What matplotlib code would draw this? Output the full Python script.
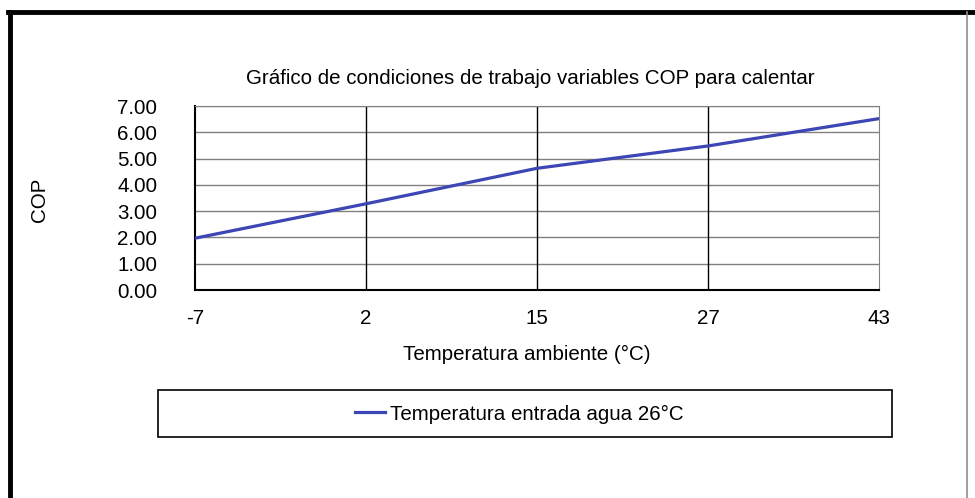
import matplotlib.pyplot as plt
from matplotlib.lines import Line2D
from matplotlib.patches import Rectangle

# datos
temperaturas = ["-7", "2", "15", "27", "43"]
cop = [1.97, 3.28, 4.63, 5.48, 6.52]
yticks = [0, 1, 2, 3, 4, 5, 6, 7]
serie = "Temperatura entrada agua 26°C"

plt.rcParams['font.family'] = ['Liberation Sans', 'DejaVu Sans']
fs = 14.8

W, H = 975, 498
fig = plt.figure(figsize=(W / 100, H / 100), dpi=100)

def fx(px):
    return px / W

def fy(py):
    return 1 - py / H

# marco exterior
fig.add_artist(Line2D([fx(10), fx(10)], [fy(12), 0], color='black', lw=3.5))
fig.add_artist(Line2D([fx(8), 1], [fy(12), fy(12)], color='black', lw=3.5))
fig.add_artist(Line2D([fx(967), fx(967)], [fy(12), 0], color='#909090', lw=1.2))

ax = fig.add_axes([fx(195), fy(290), fx(879) - fx(195), fy(106) - fy(290)])
x = list(range(len(temperaturas)))
ax.plot(x, cop, color='#3c46b4', lw=2.3, label=serie, zorder=3)

ax.set_xlim(0, len(temperaturas) - 1)
ax.set_ylim(0, 7)
ax.set_xticks(x)
ax.set_xticklabels(temperaturas)
ax.set_yticks(yticks)
ax.set_yticklabels(["%.2f" % v for v in yticks])
ax.tick_params(length=0, labelsize=fs)
ax.tick_params(axis='x', pad=14)
ax.tick_params(axis='y', pad=27)

for v in yticks[1:]:
    ax.axhline(v, color='#808080', lw=1, zorder=1)
for i in x[1:-1]:
    ax.axvline(i, color='black', lw=1, zorder=1)

ax.spines['left'].set_color('black')
ax.spines['bottom'].set_color('black')
ax.spines['left'].set_linewidth(1.5)
ax.spines['bottom'].set_linewidth(1.5)
ax.spines['top'].set_color('#808080')
ax.spines['right'].set_color('#808080')

ax.set_xlabel("Temperatura ambiente (°C)", fontsize=fs)
ax.xaxis.set_label_coords(0.485, -0.353)
ax.xaxis.label.set_va('center')
ax.set_ylabel("COP", fontsize=fs)
ax.yaxis.set_label_coords(-0.227, 0.49)
ax.yaxis.label.set_va('center')

fig.text(fx(530), fy(78), "Gráfico de condiciones de trabajo variables COP para calentar",
         ha='center', va='center', fontsize=fs)

# caja de leyenda
fig.add_artist(Rectangle((fx(158), fy(437)), fx(892) - fx(158), fy(390) - fy(437),
                         transform=fig.transFigure, fill=False, ec='black', lw=1.2))
fig.legend(loc='center', bbox_to_anchor=(fx(519), fy(414)), frameon=False,
           fontsize=fs, handlelength=1.45, handletextpad=0.25)

fig.savefig('out.png', dpi=100, facecolor='white')
